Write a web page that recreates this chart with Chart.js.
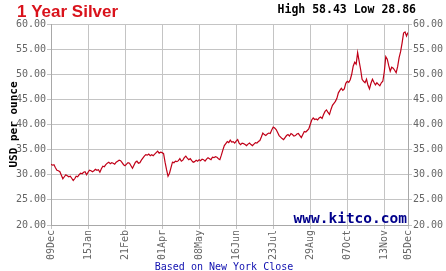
<!DOCTYPE html>
<html>
<head>
<meta charset="utf-8">
<script src="https://cdn.jsdelivr.net/npm/chart.js@4/dist/chart.umd.min.js"></script>
<style>
  html, body { margin: 0; padding: 0; background: #fff; }
  #wrap { position: relative; width: 446px; height: 271px; }
</style>
</head>
<body>
<div id="wrap"><canvas id="c" width="446" height="271"></canvas></div>
<script>
// daily closes, one row per label interval (25 trading days)
const prices = [
  32.1, 31.9, 32.0, 31.4, 30.9, 30.8, 30.6, 29.9, 29.2, 29.6, 30.0, 29.8, 29.6, 29.7, 29.3, 28.86, 29.2, 29.7, 29.6, 30.0, 30.3, 30.2, 30.5, 30.6, 30.0,
  30.5, 30.9, 30.8, 30.6, 30.8, 31.1, 30.9, 31.0, 30.5, 31.2, 31.7, 31.6, 32.0, 32.3, 32.5, 32.2, 32.4, 32.3, 32.1, 32.5, 32.7, 32.9, 32.8, 32.4, 32.0,
  31.8, 32.1, 32.4, 32.3, 31.8, 31.3, 31.9, 32.5, 32.7, 32.3, 32.4, 32.9, 33.3, 33.7, 34.0, 33.9, 34.1, 33.8, 34.0, 33.8, 34.1, 34.4, 34.7, 34.3, 34.5,
  34.4, 34.2, 32.5, 31.0, 29.7, 30.3, 31.4, 32.5, 32.4, 32.7, 32.6, 32.8, 33.2, 32.7, 32.9, 33.4, 33.7, 33.3, 33.0, 33.2, 32.8, 32.5, 32.6, 32.9, 32.7,
  33.0, 32.8, 33.1, 33.0, 32.7, 33.1, 33.4, 33.2, 33.0, 33.5, 33.4, 33.6, 33.5, 33.2, 33.0, 33.9, 34.9, 35.8, 36.2, 36.6, 36.4, 36.9, 36.5, 36.6, 36.3,
  36.7, 37.0, 36.3, 36.0, 36.3, 36.2, 36.0, 35.8, 36.1, 36.3, 36.0, 35.8, 36.1, 36.4, 36.3, 36.6, 36.8, 37.5, 38.3, 38.0, 37.8, 38.1, 38.3, 38.2, 38.9,
  39.5, 39.3, 39.0, 38.4, 37.8, 37.5, 37.2, 37.0, 37.4, 37.8, 38.0, 37.7, 38.2, 38.0, 37.7, 37.8, 38.1, 38.2, 37.8, 37.4, 38.0, 38.6, 38.5, 38.8, 39.1,
  40.0, 40.9, 41.3, 41.0, 41.1, 40.9, 41.3, 41.5, 41.2, 42.0, 42.6, 42.9, 42.4, 42.0, 43.0, 43.8, 44.2, 44.6, 45.2, 46.3, 46.8, 47.2, 46.8, 47.1, 48.2,
  48.6, 48.4, 48.9, 50.0, 51.6, 52.4, 52.0, 54.3, 52.6, 51.0, 49.0, 48.6, 48.3, 49.0, 47.8, 47.1, 48.2, 49.0, 48.4, 47.9, 48.3, 48.0, 47.7, 48.3, 48.6,
  50.5, 53.5, 53.0, 51.7, 50.6, 51.4, 51.2, 50.8, 50.3, 51.5, 53.3, 54.5, 56.2, 58.2, 58.43, 57.6, 58.3
];
const tickIdx = [0, 25, 50, 75, 100, 125, 150, 175, 200, 225, 241];
const tickLabels = ['09Dec', '15Jan', '21Feb', '01Apr', '08May', '16Jun', '23Jul', '29Aug', '07Oct', '13Nov', '05Dec'];
const yTicks = [20, 25, 30, 35, 40, 45, 50, 55, 60];
const titleText = '1 Year Silver';
const hiLoText = 'High 58.43 Low 28.86';
const yTitle = 'USD per ounce';
const siteText = 'www.kitco.com';
const footText = 'Based on New York Close';

const points = prices.map((v, i) => ({ x: i, y: v }));
const gridColor = '#c4c4c4';
const tickFont = { family: 'DejaVu Sans Mono', size: 10 };

const extraText = {
  id: 'extraText',
  afterDraw(chart) {
    const ctx = chart.ctx;
    const a = chart.chartArea;
    ctx.save();
    ctx.textBaseline = 'middle';
    ctx.fillStyle = '#d9121b';
    ctx.font = 'bold 17px "Liberation Sans"';
    ctx.textAlign = 'left';
    ctx.fillText(titleText, 17, 12);

    ctx.fillStyle = '#000';
    ctx.font = 'bold 11.5px "DejaVu Sans Mono"';
    ctx.textAlign = 'right';
    ctx.fillText(hiLoText, 416, 10);

    ctx.fillStyle = '#00008b';
    ctx.font = 'bold 14.5px "DejaVu Sans Mono"';
    ctx.fillText(siteText, a.right - 1, 219);

    ctx.fillStyle = '#1010b0';
    ctx.font = '10px "DejaVu Sans Mono"';
    ctx.textAlign = 'center';
    ctx.fillText(footText, 224, 267);

    ctx.translate(14, (a.top + a.bottom) / 2);
    ctx.rotate(-Math.PI / 2);
    ctx.fillStyle = '#000';
    ctx.font = 'bold 11px "DejaVu Sans Mono"';
    ctx.fillText(yTitle, 0, 0);
    ctx.restore();
  }
};

function yAxis(pos, w) {
  return {
    type: 'linear',
    position: pos,
    min: 20,
    max: 60,
    afterBuildTicks: s => { s.ticks = yTicks.map(v => ({ value: v })); },
    afterFit: s => { s.width = w; },
    ticks: {
      color: '#666666',
      font: tickFont,
      padding: 1,
      callback: v => v.toFixed(2)
    },
    grid: { color: gridColor, tickLength: 4, drawOnChartArea: pos === 'left' },
    border: { color: '#a8a8a8' }
  };
}

new Chart(document.getElementById('c'), {
  type: 'line',
  data: {
    datasets: [{
      data: points,
      borderColor: '#c00018',
      borderWidth: 1.2,
      pointRadius: 0,
      tension: 0
    }]
  },
  options: {
    responsive: false,
    animation: false,
    layout: { padding: { top: 24 } },
    plugins: { legend: { display: false }, tooltip: { enabled: false } },
    scales: {
      x: {
        type: 'linear',
        min: 0,
        max: 241,
        afterBuildTicks: s => { s.ticks = tickIdx.map(v => ({ value: v })); },
        afterFit: s => { s.height = 46; },
        ticks: {
          color: '#666666',
          font: tickFont,
          padding: 1,
          autoSkip: false,
          minRotation: 90,
          maxRotation: 90,
          callback: v => tickLabels[tickIdx.indexOf(v)]
        },
        grid: { color: gridColor, tickLength: 4 },
        border: { color: '#a8a8a8' }
      },
      y: yAxis('left', 51),
      y2: yAxis('right', 38)
    }
  },
  plugins: [extraText]
});
</script>
</body>
</html>
